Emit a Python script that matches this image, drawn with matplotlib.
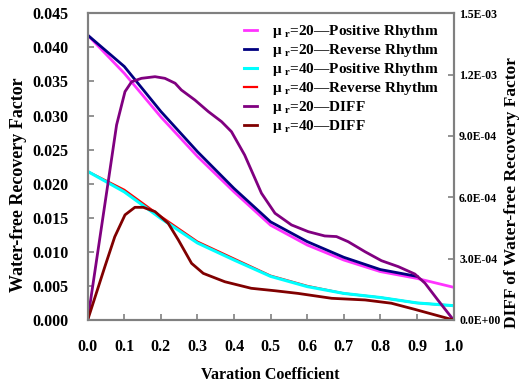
import matplotlib
matplotlib.use("Agg")
import matplotlib.pyplot as plt
from matplotlib.ticker import FixedLocator, FixedFormatter

plt.rcParams['font.family'] = ['Liberation Serif', 'DejaVu Serif']
plt.rcParams['font.weight'] = 'bold'
plt.rcParams['mathtext.fontset'] = 'custom'
plt.rcParams['mathtext.rm'] = 'Liberation Serif:bold'
plt.rcParams['mathtext.bf'] = 'Liberation Serif:bold'
plt.rcParams['mathtext.it'] = 'Liberation Serif:bold'

# ---- data ----
x_main = [0.0, 0.1, 0.2, 0.3, 0.4, 0.5, 0.6, 0.7, 0.8, 0.9, 1.0]
mu20_pos = [0.0418, 0.0362, 0.0298, 0.0240, 0.0188, 0.0139, 0.0110, 0.0088, 0.0071, 0.0061, 0.0048]
x_mu20_rev = [0.0, 0.1, 0.2, 0.3, 0.4, 0.5, 0.6, 0.7, 0.8, 0.9]
mu20_rev = [0.0418, 0.0372, 0.0306, 0.0247, 0.0193, 0.0144, 0.0115, 0.0092, 0.0074, 0.0064]
mu40_pos = [0.0218, 0.0188, 0.0149, 0.0113, 0.0088, 0.0064, 0.0049, 0.0039, 0.0033, 0.0025, 0.0021]
mu40_rev = [0.0218, 0.0191, 0.0152, 0.0115, 0.0090, 0.0065, 0.0050, 0.0039, 0.0033, 0.0025, 0.0021]

x_diff20 = [0.0, 0.0555, 0.079, 0.102, 0.12, 0.147, 0.184, 0.211, 0.239, 0.256, 0.293, 0.33,
            0.366, 0.393, 0.429, 0.475, 0.512, 0.557, 0.603, 0.648, 0.68, 0.712, 0.758,
            0.803, 0.849, 0.894, 0.922, 0.957, 1.0]
diff20 = [0.0, 6.69e-4, 9.54e-4, 1.117e-3, 1.165e-3, 1.182e-3, 1.19e-3, 1.182e-3, 1.158e-3,
          1.125e-3, 1.076e-3, 1.019e-3, 0.970e-3, 0.921e-3, 0.807e-3, 0.620e-3, 0.522e-3,
          0.465e-3, 0.432e-3, 0.411e-3, 0.408e-3, 0.383e-3, 0.334e-3, 0.29e-3, 0.261e-3,
          0.225e-3, 0.18e-3, 0.098e-3, 0.0]

x_diff40 = [0.0, 0.047, 0.074, 0.102, 0.129, 0.152, 0.184, 0.22, 0.248, 0.284, 0.316, 0.375,
            0.447, 0.512, 0.575, 0.667, 0.758, 0.83, 0.894, 1.0]
diff40 = [0.0, 0.261e-3, 0.407e-3, 0.514e-3, 0.551e-3, 0.551e-3, 0.53e-3, 0.473e-3, 0.391e-3,
          0.277e-3, 0.228e-3, 0.187e-3, 0.155e-3, 0.143e-3, 0.13e-3, 0.106e-3, 0.098e-3,
          0.082e-3, 0.052e-3, 0.0]

x_ticks = [0.0, 0.1, 0.2, 0.3, 0.4, 0.5, 0.6, 0.7, 0.8, 0.9, 1.0]
x_ticklabels = ['0.0', '0.1', '0.2', '0.3', '0.4', '0.5', '0.6', '0.7', '0.8', '0.9', '1.0']
y_ticks = [0.000, 0.005, 0.010, 0.015, 0.020, 0.025, 0.030, 0.035, 0.040, 0.045]
y_ticklabels = ['0.000', '0.005', '0.010', '0.015', '0.020', '0.025', '0.030', '0.035', '0.040', '0.045']
y2_ticks = [0.0, 3e-4, 6e-4, 9e-4, 1.2e-3, 1.5e-3]
y2_ticklabels = ['0.0E+00', '3.0E-04', '6.0E-04', '9.0E-04', '1.2E-03', '1.5E-03']

labels = [r'μ $_{\mathrm{r}}$=20—Positive Rhythm',
          r'μ $_{\mathrm{r}}$=20—Reverse Rhythm',
          r'μ $_{\mathrm{r}}$=40—Positive Rhythm',
          r'μ $_{\mathrm{r}}$=40—Reverse Rhythm',
          r'μ $_{\mathrm{r}}$=20—DIFF',
          r'μ $_{\mathrm{r}}$=40—DIFF']
colors = ['#FF33FF', '#000080', '#00FFFF', '#FF0000', '#800080', '#800000']

# ---- figure ----
fig = plt.figure(figsize=(5.21, 3.88), dpi=100)
ax = fig.add_axes([0.1683, 0.1753, 0.7022, 0.7904])
ax2 = ax.twinx()

h1, = ax.plot(x_main, mu20_pos, color=colors[0], lw=2.0, zorder=3)
h2, = ax.plot(x_mu20_rev, mu20_rev, color=colors[1], lw=2.0, zorder=4)
h4, = ax.plot(x_main, mu40_rev, color=colors[3], lw=1.6, zorder=2)
h3, = ax.plot(x_main, mu40_pos, color=colors[2], lw=2.2, zorder=3)
h5, = ax2.plot(x_diff20, diff20, color=colors[4], lw=2.0)
h6, = ax2.plot(x_diff40, diff40, color=colors[5], lw=2.0)

ax.set_xlim(0, 1.0)
ax.set_ylim(0, 0.045)
ax2.set_ylim(0, 1.5e-3)

ax.xaxis.set_major_locator(FixedLocator(x_ticks))
ax.xaxis.set_major_formatter(FixedFormatter(x_ticklabels))
ax.yaxis.set_major_locator(FixedLocator(y_ticks))
ax.yaxis.set_major_formatter(FixedFormatter(y_ticklabels))
ax2.yaxis.set_major_locator(FixedLocator(y2_ticks))
ax2.yaxis.set_major_formatter(FixedFormatter(y2_ticklabels))

for a in (ax, ax2):
    for s in a.spines.values():
        s.set_color('#808080')
        s.set_linewidth(1.5)
    a.tick_params(direction='in', length=4, width=1.2, color='#808080')
ax.tick_params(axis='y', pad=14, labelsize=11.5)
ax.tick_params(axis='x', pad=14, labelsize=11.5)
ax2.tick_params(axis='y', pad=4, labelsize=8.5)

for lab in ax.get_xticklabels() + ax.get_yticklabels() + ax2.get_yticklabels():
    lab.set_fontweight('bold')

ax.set_xlabel('Varation Coefficient', fontsize=11.5, fontweight='bold', labelpad=8)
ax.set_ylabel('Water-free Recovery Factor', fontsize=13, fontweight='bold',
              ha='center', va='center')
ax.yaxis.set_label_coords(-0.188, 0.44)
ax2.set_ylabel('DIFF of Water-free Recovery Factor', fontsize=12.5, fontweight='bold',
               ha='center', va='center')
ax2.yaxis.set_label_coords(1.16, 0.415)

leg = ax.legend([h1, h2, h3, h4, h5, h6], labels, loc='upper right',
                bbox_to_anchor=(0.99, 1.0), frameon=False, fontsize=11,
                handlelength=0.85, handletextpad=1.0, labelspacing=0.13,
                borderaxespad=0.25)
for t in leg.get_texts():
    t.set_fontweight('bold')

fig.savefig('out.png', dpi=100)
